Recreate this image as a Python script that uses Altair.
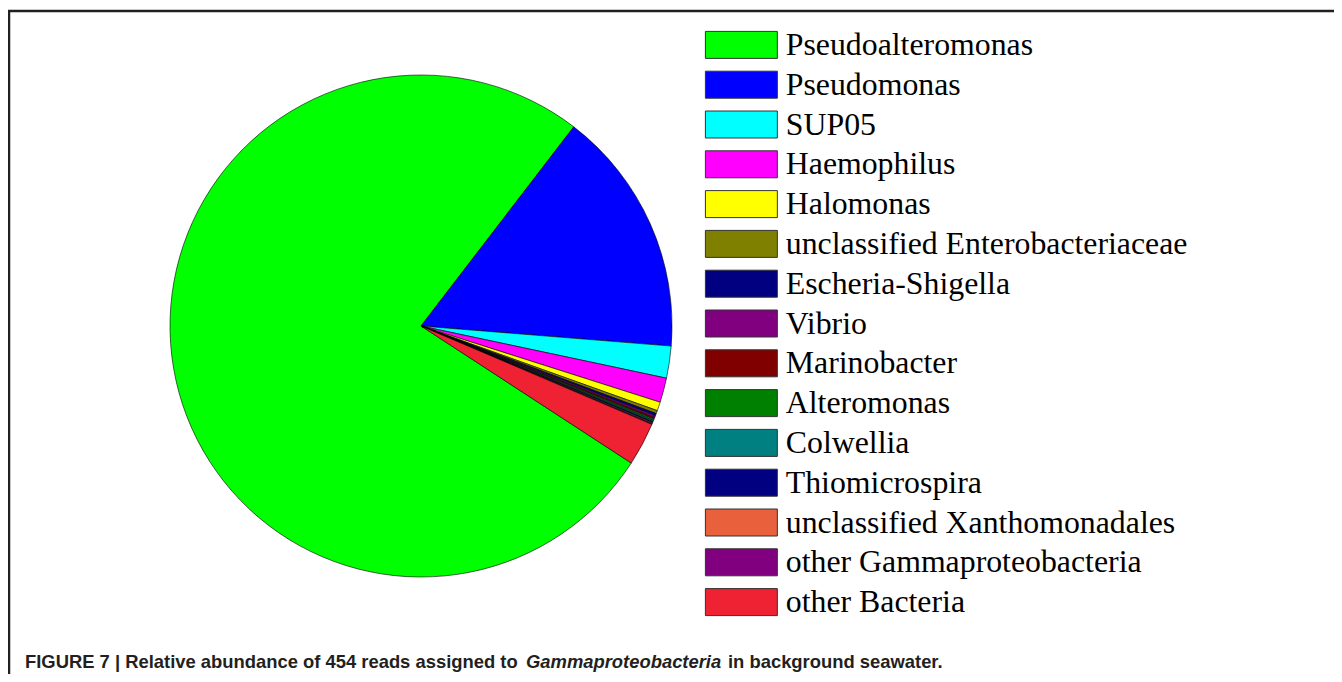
import math
import altair as alt
import pandas as pd

# ---- data ----
names = [
    "Pseudoalteromonas", "Pseudomonas", "SUP05", "Haemophilus", "Halomonas",
    "unclassified Enterobacteriaceae", "Escheria-Shigella", "Vibrio", "Marinobacter",
    "Alteromonas", "Colwellia", "Thiomicrospira", "unclassified Xanthomonadales",
    "other Gammaproteobacteria", "other Bacteria",
]
values = [76.22, 15.86, 2.06, 1.58, 0.56, 0.20, 0.15, 0.12, 0.10, 0.10, 0.08, 0.07, 0.06, 0.06, 2.78]
colors = [
    "#00FF00", "#0000FF", "#00FFFF", "#FF00FF", "#FFFF00",
    "#808000", "#000080", "#800080", "#800000",
    "#008000", "#008080", "#000080", "#E8603C",
    "#800080", "#EE2233",
]
caption_parts = ["FIGURE 7 | Relative abundance of 454 reads assigned to",
                 "Gammaproteobacteria", "in background seawater."]

df = pd.DataFrame({"name": names, "value": values, "idx": list(range(len(names)))})

start = math.radians(123.1)
W, H = 1326, 666

pie = alt.Chart(df).mark_arc(stroke="black", strokeWidth=0.6, outerRadius=251).encode(
    theta=alt.Theta("value:Q", stack=True, scale=alt.Scale(range=[start, start + 2 * math.pi])),
    color=alt.Color(
        "name:N",
        sort=names,
        scale=alt.Scale(domain=names, range=colors),
        legend=alt.Legend(
            title=None, orient="none", legendX=695, legendY=21,
            symbolType="M-1,-1H4.33V1H-1Z", symbolSize=729,
            symbolStrokeColor="#333333", symbolStrokeWidth=1, symbolOpacity=1,
            labelFont="Liberation Serif", labelFontSize=31.8, labelColor="black",
            labelLimit=700, labelOffset=51, rowPadding=6.8, padding=0,
        ),
    ),
    order=alt.Order("idx:Q"),
    x=alt.value(413),
    y=alt.value(318),
)

frame = pd.DataFrame({"a": [0]})
top_line = alt.Chart(frame).mark_rule(color="#231F20", strokeWidth=2.5).encode(
    x=alt.value(0), x2=alt.value(W), y=alt.value(3)
)
left_line = alt.Chart(frame).mark_rule(color="#231F20", strokeWidth=2.5).encode(
    x=alt.value(1), y=alt.value(3), y2=alt.value(H)
)

cap_style = dict(font="Liberation Sans", fontWeight="bold", fontSize=18.4,
                 align="left", baseline="alphabetic", color="#231F20")
cap1 = alt.Chart(pd.DataFrame({"t": [caption_parts[0]]})).mark_text(**cap_style).encode(
    text="t:N", x=alt.value(17), y=alt.value(659.5))
cap2 = alt.Chart(pd.DataFrame({"t": [caption_parts[1]]})).mark_text(fontStyle="italic", **cap_style).encode(
    text="t:N", x=alt.value(518), y=alt.value(659.5))
cap3 = alt.Chart(pd.DataFrame({"t": [caption_parts[2]]})).mark_text(**cap_style).encode(
    text="t:N", x=alt.value(720), y=alt.value(659.5))

chart = alt.layer(pie, top_line, left_line, cap1, cap2, cap3).properties(
    width=W, height=H, autosize=alt.AutoSizeParams(type="none"), padding=0
).configure_view(strokeWidth=0)

chart.save("out.html", embed_options={"renderer": "svg", "actions": False})
